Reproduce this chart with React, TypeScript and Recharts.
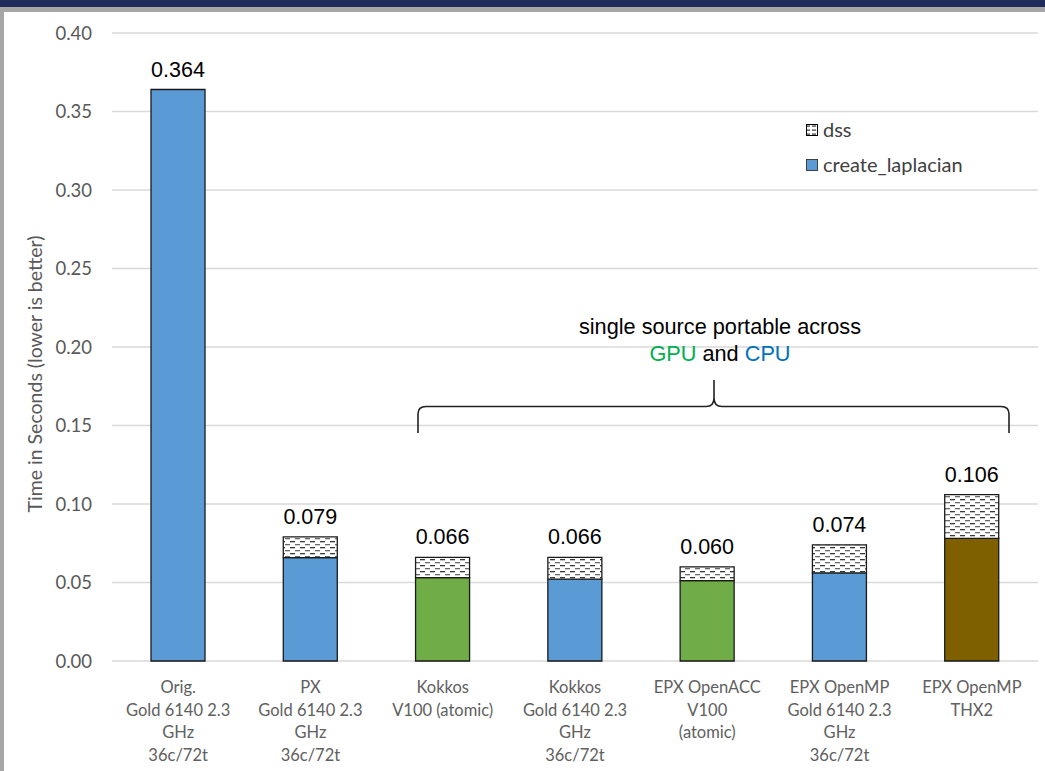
import React from 'react';
import { BarChart, Bar, XAxis, YAxis, CartesianGrid, Cell, LabelList, Legend } from 'recharts';

const categories = [
  'Orig.\nGold 6140 2.3\nGHz\n36c/72t',
  'PX\nGold 6140 2.3\nGHz\n36c/72t',
  'Kokkos\nV100 (atomic)',
  'Kokkos\nGold 6140 2.3\nGHz\n36c/72t',
  'EPX OpenACC\nV100\n(atomic)',
  'EPX OpenMP\nGold 6140 2.3\nGHz\n36c/72t',
  'EPX OpenMP\nTHX2',
];
const createLaplacian = [0.364, 0.0658, 0.0531, 0.0521, 0.0512, 0.0561, 0.0781];
const dss = [0, 0.0132, 0.0129, 0.0139, 0.0088, 0.0179, 0.0279];
const totals = ['0.364', '0.079', '0.066', '0.066', '0.060', '0.074', '0.106'];
const barColors = ['#5B9BD5', '#5B9BD5', '#70AD47', '#5B9BD5', '#70AD47', '#5B9BD5', '#7F6000'];
const yTicks = [0, 0.05, 0.1, 0.15, 0.2, 0.25, 0.3, 0.35, 0.4];

const data = categories.map((c, i) => ({
  name: c,
  create_laplacian: createLaplacian[i],
  dss: dss[i],
  total: totals[i],
}));

const FONT = 'Lato, "Open Sans", sans-serif';
const ARIAL = '"Liberation Sans", Arial, sans-serif';

const XTick = (props: any) => {
  const { x, y, payload } = props;
  const lines = String(payload.value).split('\n');
  return (
    <g>
      {lines.map((l: string, i: number) => (
        <text key={i} x={x} y={y + 32 + i * 22.6} textAnchor="middle" fontSize={16.5} fill="#606060" fontFamily={FONT}>
          {l}
        </text>
      ))}
    </g>
  );
};

// label placed on top of the full stack: create bar top minus the dss segment height (scaled from the create bar)
const TotalLabel = (props: any) => {
  const { x, y, width, height, index } = props;
  const i = Number(index);
  const dssHeight = createLaplacian[i] > 0 ? (height * dss[i]) / createLaplacian[i] : 0;
  const top = y - dssHeight;
  return (
    <text x={x + width / 2} y={top - 13} textAnchor="middle" fontSize={21.5} fill="#000" fontFamily={ARIAL}>
      {totals[i]}
    </text>
  );
};

const LegendContent = () => (
  <div style={{ fontFamily: FONT, fontSize: 20, color: '#404040', lineHeight: '35px' }}>
    <div style={{ display: 'flex', alignItems: 'center' }}>
      <svg width={12} height={12} style={{ marginRight: 5 }}>
        <defs>
          <pattern id="dssPatternLegend" width={6} height={4} patternUnits="userSpaceOnUse">
            <rect width={6} height={4} fill="#fff" />
            <rect x={0} y={1.5} width={4} height={1.2} fill="#333" />
          </pattern>
        </defs>
        <rect x={0.5} y={0.5} width={11} height={11} fill="url(#dssPatternLegend)" stroke="#000" strokeWidth={1} />
      </svg>
      dss
    </div>
    <div style={{ display: 'flex', alignItems: 'center' }}>
      <svg width={12} height={12} style={{ marginRight: 5 }}>
        <rect x={0.5} y={0.5} width={11} height={11} fill="#5B9BD5" stroke="#404040" strokeWidth={1} />
      </svg>
      create_laplacian
    </div>
  </div>
);

export default function App() {
  return (
    <div style={{ position: 'absolute', left: 0, top: 0, width: 1045, height: 771, background: '#fff', overflow: 'hidden' }}>
      <BarChart
        width={1045}
        height={771}
        data={data}
        margin={{ top: 33, right: 7, bottom: 0, left: 0 }}
        barSize={54}
      >
        <defs>
          <pattern id="dssPattern" width={10} height={6} patternUnits="userSpaceOnUse">
            <rect width={10} height={6} fill="#fff" />
            <rect x={0} y={1} width={5} height={1.3} fill="#3a3a3a" />
            <rect x={5} y={4} width={5} height={1.3} fill="#6a6a6a" />
          </pattern>
        </defs>
        <CartesianGrid vertical={false} stroke="#D9D9D9" strokeWidth={1.3} />
        <XAxis
          dataKey="name"
          axisLine={false}
          tickLine={false}
          tickSize={0}
          tickMargin={0}
          height={110}
          interval={0}
          tick={<XTick />}
        />
        <YAxis
          domain={[0, 0.4]}
          ticks={yTicks}
          tickFormatter={(v: number) => v.toFixed(2)}
          axisLine={false}
          tickLine={false}
          tickSize={0}
          tickMargin={20}
          width={112}
          tick={{ fontSize: 18.5, fill: '#595959', fontFamily: FONT }}
        />
        <Legend
          layout="vertical"
          verticalAlign="middle"
          align="center"
          content={<LegendContent />}
          wrapperStyle={{ position: 'absolute', left: 806, top: 112, width: 220, height: 70 }}
        />
        <Bar dataKey="create_laplacian" stackId="a" stroke="#1a1a1a" strokeWidth={1.3} isAnimationActive={false}>
          {data.map((d, i) => (
            <Cell key={i} fill={barColors[i]} />
          ))}
          <LabelList dataKey="total" content={<TotalLabel />} />
        </Bar>
        <Bar dataKey="dss" stackId="a" fill="url(#dssPattern)" stroke="#1a1a1a" strokeWidth={1.3} isAnimationActive={false} />
      </BarChart>
      <svg width={1045} height={771} style={{ position: 'absolute', left: 0, top: 0, pointerEvents: 'none' }}>
        <rect x={0} y={0} width={1045} height={7} fill="#1F2B5B" />
        <rect x={0} y={7} width={1045} height={5} fill="#A6A6A6" />
        <rect x={0} y={7} width={4} height={764} fill="#A6A6A6" />
        <text
          transform="translate(42,374) rotate(-90)"
          textAnchor="middle"
          fontSize={19.5}
          fill="#595959"
          fontFamily={FONT}
        >
          Time in Seconds (lower is better)
        </text>
        <text x={720} y={334} textAnchor="middle" fontSize={21.7} fill="#000" fontFamily={ARIAL}>
          single source portable across
        </text>
        <text x={720} y={361} textAnchor="middle" fontSize={21.7} fontFamily={ARIAL}>
          <tspan fill="#00B050">GPU</tspan>
          <tspan fill="#000"> and </tspan>
          <tspan fill="#0070C0">CPU</tspan>
        </text>
        <path
          d="M418 433 L418 414 Q418 406.5 426 406.5 L706 406.5 Q714 406.5 714 398 L714 380 M714 398 Q714 406.5 722 406.5 L1001 406.5 Q1009 406.5 1009 414 L1009 433"
          fill="none"
          stroke="#222"
          strokeWidth={1.6}
        />
      </svg>
    </div>
  );
}
